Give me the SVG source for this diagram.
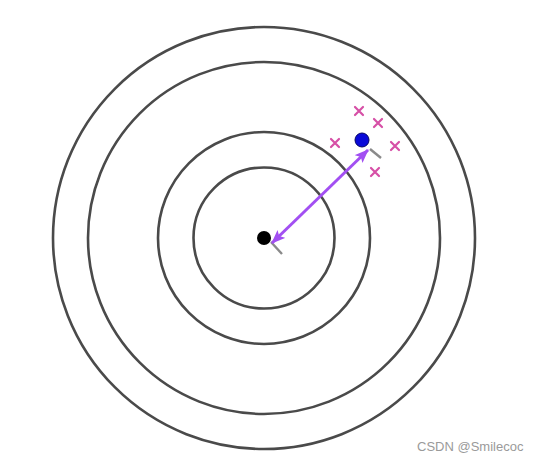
<svg xmlns="http://www.w3.org/2000/svg" width="538" height="462" viewBox="0 0 538 462">
<defs>
<style>
.ring{fill:none;stroke:#4a4a4a;stroke-width:2.6}
.x{stroke:#d64fa6;stroke-width:2.2;stroke-linecap:round}
.tick{stroke:#8a8a8a;stroke-width:2.4}
.arrow{stroke:#a24ff2;stroke-width:3;fill:none}
.wm{font-family:"Liberation Sans",Arial,sans-serif;font-size:13px;fill:#9a9a9a}
</style>
<marker id="ah" viewBox="0 0 14 11" refX="13" refY="5.5" markerWidth="14" markerHeight="11" markerUnits="userSpaceOnUse" orient="auto-start-reverse">
<path d="M0,0 L14,5.5 L0,11 L3,5.5 Z" fill="#a24ff2"/>
</marker>
</defs>
<rect width="538" height="462" fill="#ffffff"/>
<g id="rings">
<circle class="ring" cx="264" cy="238" r="211"/>
<circle class="ring" cx="264" cy="238" r="176"/>
<circle class="ring" cx="264" cy="238" r="106"/>
<circle class="ring" cx="264" cy="238" r="70.5"/>
</g>
<g id="connectors">
<line class="tick" x1="271" y1="242" x2="282" y2="254"/>
<line class="tick" x1="370" y1="149" x2="381" y2="158"/>
<line class="arrow" x1="272" y1="243" x2="368" y2="150" marker-start="url(#ah)" marker-end="url(#ah)"/>
</g>
<g id="center"><circle cx="264" cy="238" r="7" fill="#000"/></g>
<g id="point"><circle cx="362" cy="140" r="7" fill="#0a0ad8" stroke="#050566" stroke-width="1"/></g>
<g id="samples">
<path class="x" d="M355,107 l8,8 M363,107 l-8,8"/>
<path class="x" d="M374,119 l8,8 M382,119 l-8,8"/>
<path class="x" d="M331,139 l8,8 M339,139 l-8,8"/>
<path class="x" d="M391,142 l8,8 M399,142 l-8,8"/>
<path class="x" d="M371,168 l8,8 M379,168 l-8,8"/>
</g>
<text class="wm" x="417" y="451">CSDN @Smilecoc</text>
</svg>
